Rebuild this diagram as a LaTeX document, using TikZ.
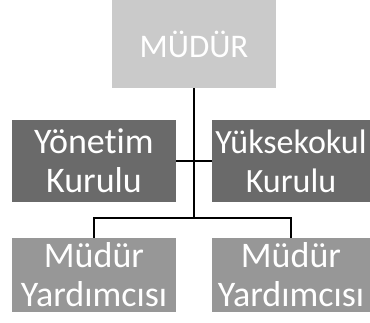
\documentclass[tikz,border=0pt]{standalone}
\usepackage{fontspec}
\setmainfont{Carlito}[Ligatures=NoCommon]
\definecolor{lightbox}{HTML}{CACACA}
\definecolor{darkbox}{HTML}{6A6A6A}
\definecolor{midbox}{HTML}{979797}
\begin{document}
\begin{tikzpicture}[x=1pt,y=-1pt]
        \useasboundingbox (0,0) rectangle (370,323);

        \begin{scope}[every node/.style={draw=none,text=white,align=center,
            inner sep=0pt,font=\fontsize{36}{39}\selectfont}]
          \node[fill=lightbox,minimum width=164pt,minimum height=88pt,
            font=\fontsize{33}{39}\selectfont] (mudur) at (194,44) {MÜDÜR};
          \node[fill=darkbox,minimum width=164pt,minimum height=82pt] (yonetim) at (94,161) {Yönetim\\Kurulu};
          \node[fill=darkbox,minimum width=158pt,minimum height=82pt,
            font=\fontsize{34}{39}\selectfont] (yuksek) at (291,161) {Yüksekokul\\Kurulu};
          \node[fill=midbox,minimum width=164pt,minimum height=74pt]  (yard1) at (94,275) {Müdür\\Yardımcısı};
          \node[fill=midbox,minimum width=158pt,minimum height=74pt]  (yard2) at (291,275) {Müdür\\Yardımcısı};
        \end{scope}

        \coordinate (split) at (194,218);

        \begin{scope}[line width=1.6pt]
          \draw (mudur.south) -- (split);
          \draw (yonetim.east) -- (yuksek.west);
          \draw (split) -| (yard1.north);
          \draw (split) -| (yard2.north);
        \end{scope}

      \end{tikzpicture}
\end{document}
